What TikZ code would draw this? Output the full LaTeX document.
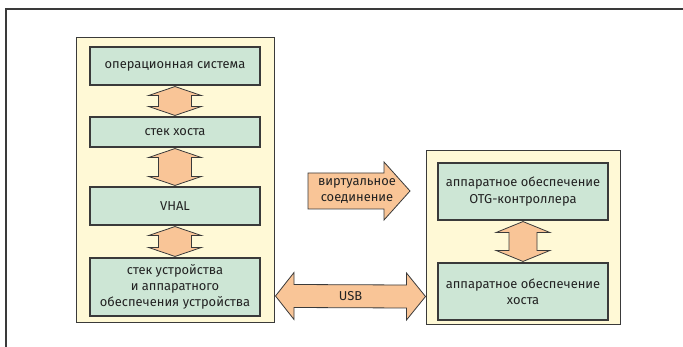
\documentclass[tikz,border=0pt]{standalone}
\usepackage{fontspec}
\setmainfont{Fira Sans}
\usetikzlibrary{calc}
\definecolor{panelfill}{HTML}{FFF9D6}
\definecolor{boxfill}{HTML}{CDE6D5}
\definecolor{arrowfill}{HTML}{F9C597}
\definecolor{edge}{HTML}{3A3A3A}
\definecolor{ink}{HTML}{222222}
\tikzset{
  panel/.style={draw=edge, line width=1pt, fill=panelfill, inner sep=0pt},
  layer/.style={draw=edge, line width=1.1pt, fill=boxfill, inner sep=0pt,
    minimum width=170pt, text=ink, align=center,
    font=\fontsize{12.9}{16.2}\selectfont},
  fat/.style={draw=edge, line width=0.8pt, fill=arrowfill, line join=miter},
  label/.style={text=ink, align=center, inner sep=0pt,
    font=\fontsize{12.9}{16.2}\selectfont}
}
% vertical two-headed arrow between two stacked boxes
% #1 upper node, #2 lower node, #3 head half-width, #4 shaft half-width, #5 head length
\newcommand{\layerlink}[5]{%
  \draw[fat]
    ($(#1.south)+(0,1)$) -- ++(#3,#5) -- ++(-#3+#4,0)
    |- ($(#2.north)+(#4,-1-#5)$) -- ++(#3-#4,0) -- ($(#2.north)+(0,-1)$)
    -- ++(-#3,-#5) -- ++(#3-#4,0)
    |- ($(#1.south)+(-#4,1+#5)$) -- ++(-#3+#4,0) -- cycle;}
\begin{document}
\begin{tikzpicture}[x=1pt,y=-1pt]
  \useasboundingbox (0,0) rectangle (683,347);
  % outer frame (top and left edges)
  \draw[edge, line width=2pt] (6,347) -- (6,9) -- (683,9);

  % left stack
  \node[panel, minimum width=198pt, minimum height=285pt] (devpanel) at (175,180.5) {};
  \node[layer, minimum height=38pt] (os) at (175,66) {операционная система};
  \node[layer, minimum height=30pt] (hstack) at (175,132) {стек хоста};
  \node[layer, minimum height=38pt] (vhal) at (175,206) {VHAL};
  \node[layer, minimum height=58pt] (dstack) at (175,287)
    {стек устройства\\и аппаратного\\обеспечения устройства};

  % right stack
  \node[panel, minimum width=194pt, minimum height=174pt] (hostpanel) at (523,238) {};
  \node[layer, minimum height=57pt] (otg) at (523,191.5)
    {аппаратное обеспечение\\OTG-контроллера};
  \node[layer, minimum height=57pt] (hosthw) at (523,291.5)
    {аппаратное обеспечение\\хоста};

  % links between layers
  \layerlink{os}{hstack}{26.5}{16.5}{9}
  \layerlink{hstack}{vhal}{26.5}{16.5}{9}
  \layerlink{vhal}{dstack}{26.5}{16.5}{9}
  \layerlink{otg}{hosthw}{27}{14}{11}

  % virtual connection arrow
  \draw[fat] (308,173) -- (384,173) -- (384,162) -- (410,191) -- (384,220)
    -- (384,209) -- (308,209) -- cycle;
  \node[label] (virt) at (357,191) {виртуальное\\соединение};

  % USB link between the two panels
  \coordinate (usbL) at ($(devpanel.east)+(1,115.5)$);
  \coordinate (usbR) at ($(hostpanel.west)+(0,58.5)$);
  \draw[fat] (usbL) -- ++(18.5,-23.5) -- ++(0,12) -- ($(usbR)+(-19,-11.5)$)
    -- ++(0,-12) -- (usbR) -- ++(-19,23.5) -- ++(0,-12)
    -- ($(usbL)+(18.5,11.5)$) -- ++(0,12) -- cycle;
  \node[label] (usb) at ($(usbL)!0.5!(usbR)$) {USB};
\end{tikzpicture}
\end{document}
